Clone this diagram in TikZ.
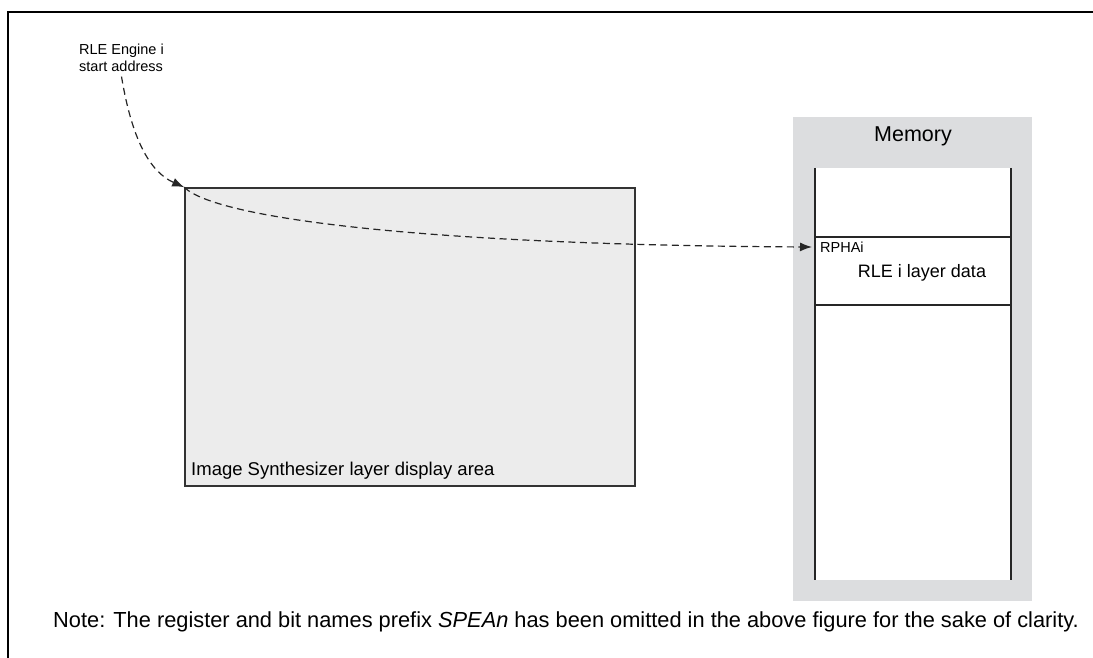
\documentclass[tikz,border=0pt]{standalone}
\usepackage{fontspec}
\setmainfont{Liberation Sans}
\usetikzlibrary{arrows.meta, calc, positioning}
\definecolor{memgray}{HTML}{DCDDDF}
\definecolor{areagray}{HTML}{ECECEC}
\newcommand{\px}[1]{\fontsize{#1}{#1}\selectfont}

\begin{document}
\begin{tikzpicture}[x=1pt, y=-1pt,
    >={Latex[length=12pt, width=9pt]},
    every node/.style={font=\px{14.5}, inner sep=0pt},
    frame/.style ={line width=2.4pt},
    area/.style  ={draw=black!80, line width=1.6pt, fill=areagray,
                   minimum width=450pt, minimum height=298pt},
    panel/.style ={fill=memgray, minimum width=239pt, minimum height=484pt},
    column/.style={fill=white, minimum width=196pt, minimum height=412pt},
    cell/.style  ={draw=black!85, line width=1.6pt,
                   minimum width=196pt, minimum height=68pt},
    wall/.style  ={draw=black!85, line width=1.6pt},
    conn/.style  ={->, line width=1.2pt, black!85, dash pattern=on 7pt off 4.5pt},
]
\useasboundingbox (0,0) rectangle (1093,658);
\draw[frame] (8,658) -- (8,12) -- (1093,12);

% layer display area
\node[area] (disp) at (410,337) {};
\node[anchor=base west, font=\px{18.5}] (displabel) at (191,475)
    {Image Synthesizer layer display area};

% memory
\node[panel]  (mem)    at (912.5,359) {};
\node[column] (memcol) at (913,374) {};
\draw[wall] (memcol.north west) -- (memcol.south west);
\draw[wall] (memcol.north east) -- (memcol.south east);
\node[cell]   (cell)   at (913,271) {};
\node[anchor=base, font=\px{21.5}] (memlabel) at (913,142) {Memory};
\node[anchor=base west, font=\px{14.5}] (rpha) at (820,252) {RPHAi};
\node[anchor=base, font=\px{18}] (rledata) at (922,277) {RLE i layer data};
\coordinate (memin) at (812,247);

% start address
\node[anchor=north west, align=left, font=\px{14.5}] (engine) at (79,44)
    {RLE Engine i\\[2pt]start address};
\draw[conn] ([yshift=-5pt]engine.south) .. controls (132,140) and (150,172) .. (disp.north west);
\draw[conn] (disp.north west) .. controls (215,218) and (420,245) .. (memin);

\node[anchor=base, font=\px{21.8}] (note) at (566,627)
    {Note: The register and bit names prefix \textit{SPEAn} has been omitted in the above figure for the sake of clarity.};
\end{tikzpicture}
\end{document}
